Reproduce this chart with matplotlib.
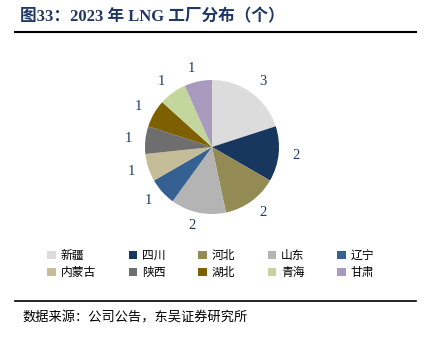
import matplotlib.pyplot as plt
from matplotlib.patches import Patch
from matplotlib.lines import Line2D

# Data
provinces = ['新疆', '四川', '河北', '山东', '辽宁', '内蒙古', '陕西', '湖北', '青海', '甘肃']
counts = [3, 2, 2, 2, 1, 1, 1, 1, 1, 1]
colors = ['#DCDCDC', '#17375E', '#948A54', '#B4B4B4', '#376092',
          '#C4BD97', '#6E6E6E', '#7F6000', '#C3D69B', '#A99BBD']

cjk = ['Noto Sans CJK SC', 'DejaVu Sans']
serif_mix = ['Liberation Serif', 'Noto Sans CJK SC']
navy = '#1F3864'

fig = plt.figure(figsize=(4.3, 3.44), dpi=100)

# Title and rules
fig.text(20 / 430, 1 - 17 / 344, '图33：2023 年 LNG 工厂分布（个）', family=serif_mix,
         fontsize=12, fontweight='bold', color=navy, va='center', ha='left')
fig.add_artist(Line2D([15 / 430, 416 / 430], [1 - 32 / 344] * 2, color='black', lw=1.5))
fig.add_artist(Line2D([15 / 430, 416 / 430], [1 - 301 / 344] * 2, color='black', lw=1.2))
fig.text(22 / 430, 1 - 318 / 344, '数据来源：公司公告，东吴证券研究所', family=cjk,
         fontsize=9.5, color='black', va='center', ha='left')

# Pie
cx, cy, r = 212, 147, 67
ax = fig.add_axes([(cx - r) / 430, (344 - cy - r) / 344, 2 * r / 430, 2 * r / 344])
ax.pie(counts, colors=colors, startangle=90, counterclock=False,
       labels=[str(c) for c in counts], labeldistance=1.2,
       textprops=dict(color=navy, fontsize=10.5, family='Liberation Serif'),
       wedgeprops=dict(linewidth=0))
ax.set_xlim(-1, 1)
ax.set_ylim(-1, 1)
ax.set_aspect('equal')

# Legend (row-major order, legend fills columns first)
order = [0, 5, 1, 6, 2, 7, 3, 8, 4, 9]
handles = [Patch(facecolor=colors[i], edgecolor='none') for i in order]
labels = [provinces[i] for i in order]
leg = fig.legend(handles, labels, loc='center', bbox_to_anchor=(0.49, 1 - 264 / 344),
                 ncol=5, frameon=False, prop=dict(family=cjk, size=8.5),
                 handlelength=0.7, handleheight=0.7, handletextpad=0.4,
                 columnspacing=2.8, labelspacing=0.3)

fig.savefig('out.png', dpi=100)
